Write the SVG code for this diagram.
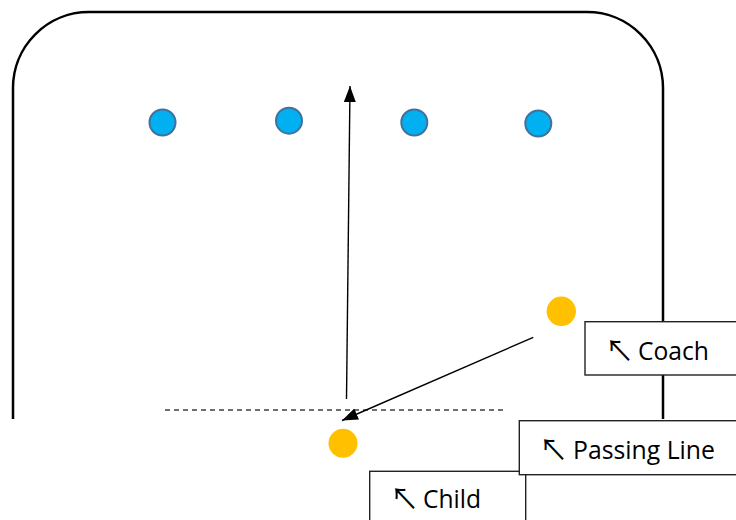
<svg xmlns="http://www.w3.org/2000/svg" width="736" height="520" viewBox="0 0 736 520">
  <style>
    .field { fill: none; stroke: #000; stroke-width: 2.5; }
    .player { fill: #00B0F0; stroke: #41719C; stroke-width: 2; }
    .orange { fill: #FFC000; }
    .conn { stroke: #000; stroke-width: 1.4; fill: none; }
    .dash { stroke: #404040; stroke-width: 1.5; stroke-dasharray: 5 4; fill: none; }
    .box { fill: #fff; stroke: #222; stroke-width: 1.4; }
    .lbl { font-family: "Open Sans", "Liberation Sans", sans-serif; font-size: 25px; fill: #000; }
    .arr { font-family: "Noto Sans CJK SC", "DejaVu Sans", sans-serif; font-size: 29px; }
  </style>
  <defs>
    <marker id="ah" markerUnits="userSpaceOnUse" markerWidth="17" markerHeight="13" refX="16" refY="6" orient="auto">
      <path d="M0,0 L16,6 L0,12 z" fill="#000"/>
    </marker>
  </defs>

  <g id="field">
    <path class="field" d="M13,419 V88 A76,76 0 0 1 89,12 H587 A76,76 0 0 1 663,88 V419"/>
  </g>

  <g id="players">
    <g id="player1"><circle class="player" cx="162.5" cy="122.5" r="13"/></g>
    <g id="player2"><circle class="player" cx="289" cy="120.7" r="13"/></g>
    <g id="player3"><circle class="player" cx="414.3" cy="122.5" r="13"/></g>
    <g id="player4"><circle class="player" cx="538.3" cy="123.5" r="13"/></g>
  </g>

  <g id="passing-line">
    <line class="dash" x1="165" y1="410" x2="507" y2="410"/>
  </g>

  <g id="connectors">
    <line class="conn" x1="346.5" y1="399" x2="350" y2="86" marker-end="url(#ah)"/>
    <line class="conn" x1="533.3" y1="337.3" x2="342" y2="420.5" marker-end="url(#ah)"/>
  </g>

  <g id="coach"><circle class="orange" cx="561.3" cy="311.3" r="14.7"/></g>
  <g id="child"><circle class="orange" cx="343" cy="443.3" r="14.5"/></g>

  <g id="label-child">
    <rect class="box" x="369.7" y="471.3" width="156" height="60"/>
    <text class="lbl" x="390" y="510"><tspan class="arr">↖</tspan><tspan x="423" y="508.3" textLength="58" lengthAdjust="spacingAndGlyphs">Child</tspan></text>
  </g>
  <g id="label-passing">
    <rect class="box" x="519.3" y="420.7" width="230" height="54"/>
    <text class="lbl" x="539" y="460.7"><tspan class="arr">↖</tspan><tspan x="573" y="459" textLength="142" lengthAdjust="spacingAndGlyphs">Passing Line</tspan></text>
  </g>
  <g id="label-coach">
    <rect class="box" x="585" y="321.7" width="160" height="53.3"/>
    <text class="lbl" x="605" y="361.7"><tspan class="arr">↖</tspan><tspan x="638" y="360" textLength="71" lengthAdjust="spacingAndGlyphs">Coach</tspan></text>
  </g>
</svg>
